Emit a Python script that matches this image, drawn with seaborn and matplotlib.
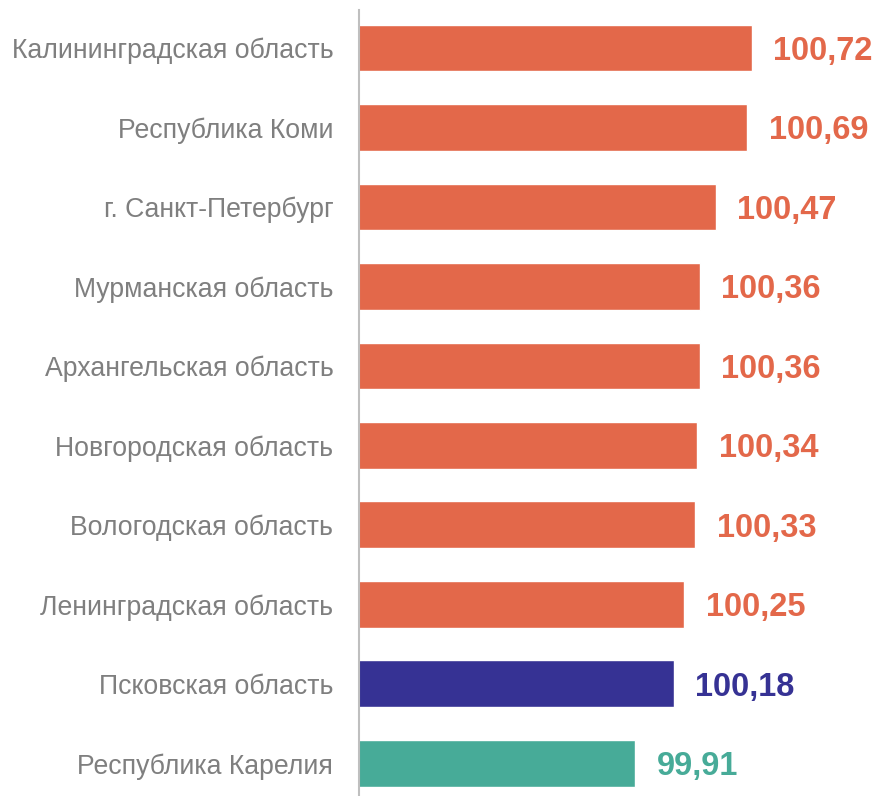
import matplotlib
matplotlib.use('Agg')
import matplotlib.pyplot as plt
import seaborn as sns

regions = [
    'Калининградская область', 'Республика Коми', 'г. Санкт-Петербург',
    'Мурманская область', 'Архангельская область', 'Новгородская область',
    'Вологодская область', 'Ленинградская область', 'Псковская область',
    'Республика Карелия',
]
values = [100.72, 100.69, 100.47, 100.36, 100.36, 100.34, 100.33, 100.25, 100.18, 99.91]
colors = ['#E3684A'] * 8 + ['#363294', '#47AB98']

sns.set_theme(style='white')
plt.rcParams['font.family'] = ['Liberation Sans', 'DejaVu Sans']

fig = plt.figure(figsize=(8.77, 7.96), dpi=100)
ax = fig.add_axes([359 / 877, 0, 1 - 359 / 877, 786 / 796])

sns.barplot(x=values, y=regions, hue=regions, palette=colors, legend=False,
            orient='h', width=0.59, saturation=1, ax=ax)

ax.set_xlim(98, 101.587)
ax.set_ylim(9.41, -0.478)

# value labels to the right of each bar
for i, (v, c) in enumerate(zip(values, colors)):
    ax.text(v + 0.15, i, f'{v:.2f}'.replace('.', ','), color=c,
            fontsize=23.5, fontweight='bold', va='center_baseline', ha='left')

sns.despine(ax=ax, left=False, bottom=True, top=True, right=True)
ax.spines['left'].set_color('#BFBFBF')
ax.spines['left'].set_linewidth(1.5)
ax.set_xticks([])
ax.set_xlabel('')
ax.set_ylabel('')
ax.tick_params(axis='y', length=0, pad=18.5, labelsize=19.2, labelcolor='#7F7F7F')

fig.savefig('out.png', dpi=100)
